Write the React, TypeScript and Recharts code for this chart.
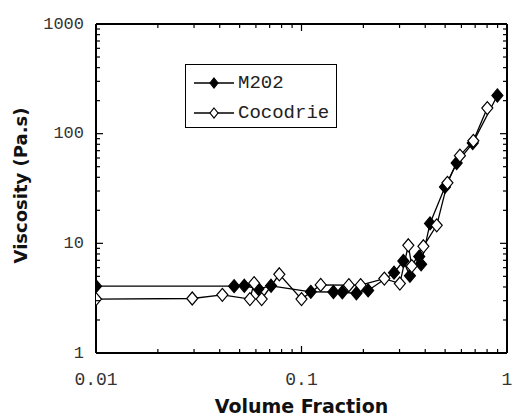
import React from 'react';
import { LineChart, Line, XAxis, YAxis, Legend } from 'recharts';

// M202 (filled diamonds)
const m202Fraction = [0.01, 0.047, 0.0527, 0.0617, 0.0711, 0.111, 0.143, 0.158, 0.185, 0.211, 0.282, 0.313, 0.337, 0.374, 0.382, 0.422, 0.499, 0.569, 0.681, 0.898];
const m202Viscosity = [4.07, 4.07, 4.1, 3.85, 4.1, 3.61, 3.6, 3.58, 3.5, 3.72, 5.4, 6.9, 5.05, 7.57, 6.44, 15.2, 32.7, 54, 82, 223];

// Cocodrie (open diamonds)
const cocodrieFraction = [0.01, 0.0294, 0.0412, 0.0561, 0.0588, 0.064, 0.078, 0.1, 0.124, 0.17, 0.194, 0.253, 0.301, 0.331, 0.344, 0.392, 0.455, 0.513, 0.59, 0.686, 0.802];
const cocodrieViscosity = [3.1, 3.14, 3.39, 3.1, 4.33, 3.1, 5.22, 3.1, 4.18, 4.15, 4.15, 4.77, 4.3, 9.6, 6.2, 9.4, 14.6, 35.6, 63, 86, 171];

const xMajorTicks = [0.01, 0.1, 1];
const xMinorTicks = [0.02, 0.03, 0.04, 0.05, 0.06, 0.07, 0.08, 0.09, 0.2, 0.3, 0.4, 0.5, 0.6, 0.7, 0.8, 0.9];
const xTickLabels = ['0.01', '0.1', '1'];

const yMajorTicks = [1, 10, 100, 1000];
const yMinorTicks = [2, 3, 4, 5, 6, 7, 8, 9, 20, 30, 40, 50, 60, 70, 80, 90, 200, 300, 400, 500, 600, 700, 800, 900];
const yTickLabels = ['1', '10', '100', '1000'];

const m202Data = m202Fraction.map((x, i) => ({ x, y: m202Viscosity[i] }));
const cocodrieData = cocodrieFraction.map((x, i) => ({ x, y: cocodrieViscosity[i] }));

const TICK_FONT = '"Liberation Mono", monospace';
const TITLE_FONT = '"DejaVu Sans", sans-serif';

const diamond = (cx: number, cy: number, w: number, h: number) =>
  `M${cx},${cy - h} L${cx + w},${cy} L${cx},${cy + h} L${cx - w},${cy} Z`;

const makeDot = (filled: boolean) => (props: any) => {
  const { cx, cy, index } = props;
  if (cx == null || cy == null) return <g key={index} />;
  return (
    <path
      key={index}
      d={diamond(cx, cy, 5.5, 6.5)}
      fill={filled ? '#000' : '#fff'}
      stroke="#000"
      strokeWidth={1.2}
    />
  );
};

const XTick = (props: any) => {
  const { x, y, payload, side } = props;
  const mi = xMajorTicks.indexOf(payload.value);
  const len = mi >= 0 ? 7 : 4;
  const dir = side === 'top' ? 1 : -1;
  return (
    <g>
      <line x1={x} y1={y} x2={x} y2={y + dir * len} stroke="#000" strokeWidth={1.2} />
      {side === 'bottom' && mi >= 0 && (
        <text x={x} y={y + 27} textAnchor="middle" dominantBaseline="central"
          fontFamily={TICK_FONT} fontSize={18} fill="#333">
          {xTickLabels[mi]}
        </text>
      )}
    </g>
  );
};

const YTick = (props: any) => {
  const { x, y, payload, side } = props;
  const mi = yMajorTicks.indexOf(payload.value);
  const len = mi >= 0 ? 7 : 4;
  const dir = side === 'right' ? -1 : 1;
  return (
    <g>
      <line x1={x} y1={y} x2={x + dir * len} y2={y} stroke="#000" strokeWidth={1.2} />
      {side === 'left' && mi >= 0 && (
        <text x={x - 12} y={y} textAnchor="end" dominantBaseline="central"
          fontFamily={TICK_FONT} fontSize={17} fill="#333">
          {yTickLabels[mi]}
        </text>
      )}
    </g>
  );
};

const YTitle = (props: any) => {
  const { x, y, height } = props.viewBox;
  const cx = x + 20;
  const cy = y + height / 2 - 3;
  return (
    <text x={cx} y={cy} transform={`rotate(-90, ${cx}, ${cy})`} textAnchor="middle"
      dominantBaseline="central" fontFamily={TITLE_FONT} fontWeight="bold" fontSize={18} fill="#111">
      Viscosity (Pa.s)
    </text>
  );
};

const legendItems = [
  { name: 'M202', filled: true },
  { name: 'Cocodrie', filled: false },
];

const LegendBox = () => (
  <div style={{ border: '1.5px solid #000', background: '#fff', width: 150, height: 59, paddingTop: 3, boxSizing: 'content-box' }}>
    {legendItems.map((item) => (
      <div key={item.name} style={{ display: 'flex', alignItems: 'center', height: 30 }}>
        <svg width={50} height={20} style={{ marginLeft: 6 }}>
          <line x1={2} y1={10} x2={42} y2={10} stroke="#000" strokeWidth={1.3} />
          <path d={diamond(22, 10, 4, 5)} fill={item.filled ? '#000' : '#fff'} stroke="#000" strokeWidth={1.2} />
        </svg>
        <span style={{ fontFamily: TICK_FONT, fontSize: 19, color: '#222', marginLeft: -4 }}>{item.name}</span>
      </div>
    ))}
  </div>
);

export default function App() {
  return (
    <div style={{ position: 'absolute', left: 0, top: 0, background: '#fff' }}>
      <LineChart width={513} height={420} margin={{ top: 23, right: 5, bottom: 0, left: 0 }}>
        <XAxis
          xAxisId={0}
          dataKey="x"
          type="number"
          scale="log"
          domain={[0.01, 1]}
          allowDataOverflow
          ticks={[...xMajorTicks, ...xMinorTicks]}
          interval={0}
          height={67}
          tickSize={0}
          tickMargin={0}
          tickLine={false}
          axisLine={{ stroke: '#000', strokeWidth: 2 }}
          tick={<XTick side="bottom" />}
          label={{ value: 'Volume Fraction', position: 'insideBottom', offset: 7, fontFamily: TITLE_FONT, fontWeight: 'bold', fontSize: 19, fill: '#111' }}
        />
        <XAxis
          xAxisId="top"
          orientation="top"
          dataKey="x"
          type="number"
          scale="log"
          domain={[0.01, 1]}
          allowDataOverflow
          ticks={[...xMajorTicks, ...xMinorTicks]}
          interval={0}
          height={1}
          tickSize={0}
          tickMargin={0}
          tickLine={false}
          axisLine={{ stroke: '#000', strokeWidth: 2 }}
          tick={<XTick side="top" />}
        />
        <YAxis
          yAxisId={0}
          type="number"
          scale="log"
          domain={[1, 1000]}
          allowDataOverflow
          ticks={[...yMajorTicks, ...yMinorTicks]}
          interval={0}
          width={96}
          tickSize={0}
          tickMargin={0}
          tickLine={false}
          axisLine={{ stroke: '#000', strokeWidth: 2 }}
          tick={<YTick side="left" />}
          label={{ content: YTitle }}
        />
        <YAxis
          yAxisId="right"
          orientation="right"
          type="number"
          scale="log"
          domain={[1, 1000]}
          allowDataOverflow
          ticks={[...yMajorTicks, ...yMinorTicks]}
          interval={0}
          width={1}
          tickSize={0}
          tickMargin={0}
          tickLine={false}
          axisLine={{ stroke: '#000', strokeWidth: 2 }}
          tick={<YTick side="right" />}
        />
        <Legend
          layout="horizontal"
          verticalAlign="middle"
          align="center"
          content={<LegendBox />}
          wrapperStyle={{ left: 185, top: 64, width: 153, height: 62 }}
        />
        <Line
          data={m202Data}
          dataKey="y"
          name="M202"
          stroke="#000"
          strokeWidth={1.3}
          dot={makeDot(true)}
          isAnimationActive={false}
        />
        <Line
          data={cocodrieData}
          dataKey="y"
          name="Cocodrie"
          stroke="#000"
          strokeWidth={1.3}
          dot={makeDot(false)}
          isAnimationActive={false}
        />
      </LineChart>
    </div>
  );
}
